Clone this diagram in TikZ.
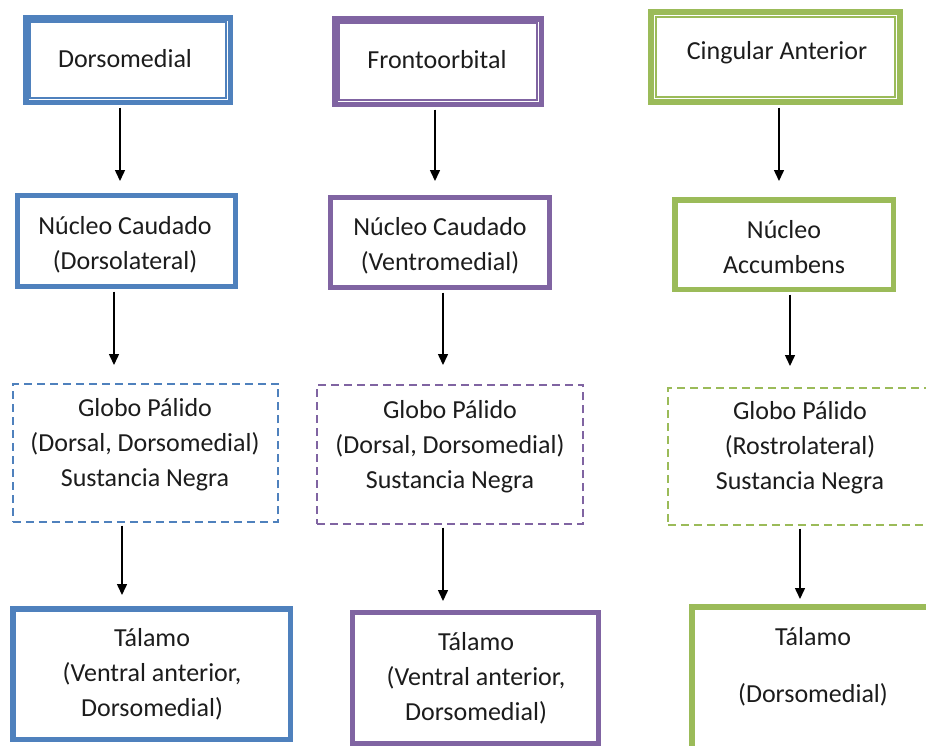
\documentclass[tikz,border=0pt]{standalone}
\usepackage{fontspec}
\setmainfont{Carlito}
\usetikzlibrary{arrows.meta}
\definecolor{cblue}{HTML}{4F81BD}
\definecolor{cpurple}{HTML}{8064A2}
\definecolor{cgreen}{HTML}{9BBB59}
\definecolor{ink}{HTML}{1C1C1C}

% Box given by its outer edges: name, x1, y1, x2, y2, line width, style
\newcommand\framedregion[7]{%
  \pgfmathsetmacro\rcx{(#2+#4)/2}%
  \pgfmathsetmacro\rcy{(#3+#5)/2}%
  \pgfmathsetmacro\rbw{#4-#2-#6}%
  \pgfmathsetmacro\rbh{#5-#3-#6}%
  \node[#7, line width=#6pt, minimum width=\rbw pt, minimum height=\rbh pt] (#1) at (\rcx,\rcy) {};
}
% Thin inner line of the double-framed top boxes
\newcommand\innerframe[3]{%
  \draw[#2, line width=2pt] ([shift={(#3,#3)}]#1.north west) rectangle ([shift={(-#3,-#3)}]#1.south east);
}

\begin{document}
\begin{tikzpicture}[x=1pt, y=-1pt,
  region/.style={draw, rectangle, inner sep=0pt},
  pathway/.style={region, dash pattern=on 8pt off 5pt},
  label/.style={align=center, text=ink, font=\fontsize{26}{35}\selectfont, inner sep=0pt},
  arr/.style={-{Triangle[width=10pt,length=11pt]}, line width=1.5pt, black, shorten <=2.5pt}]
\useasboundingbox (0,0) rectangle (926,745);
\clip (0,0) rectangle (926,745);

% ---- cortical areas (double frame) ----
\framedregion{c1}{23}{15}{233}{105}{5.5}{region, cblue}
\framedregion{c2}{332}{16}{544}{107}{5.5}{region, cpurple}
\framedregion{c3}{648}{9}{903}{105}{6}{region, cgreen}
\innerframe{c1}{cblue}{7}
\innerframe{c2}{cpurple}{7}
\innerframe{c3}{cgreen}{8}

% ---- striatum ----
\framedregion{s1}{15}{193}{238}{289}{5}{region, cblue}
\framedregion{s2}{328}{195}{552}{290}{5}{region, cpurple}
\framedregion{s3}{672}{197}{896}{292}{5.5}{region, cgreen}

% ---- pallidum / substantia nigra ----
\framedregion{g1}{12}{383}{279}{523}{1.8}{pathway, cblue}
\framedregion{g2}{316}{384}{584}{525}{1.8}{pathway, cpurple}
\framedregion{g3}{667}{387}{940}{526}{1.8}{pathway, cgreen}

% ---- thalamus ----
\framedregion{t1}{10}{606}{293}{742}{5.5}{region, cblue}
\framedregion{t2}{350}{610}{601}{746}{5}{region, cpurple}
\framedregion{t3}{689}{604}{945}{765}{5.5}{region, cgreen}

% ---- texts ----
\node[label] (lc1) at (125,59) {Dorsomedial};
\node[label] (lc2) at (437,60) {Frontoorbital};
\node[label] (lc3) at (777,53) {Cingular Anterior};

\node[label] (ls1) at (125,245) {Núcleo Caudado\\(Dorsolateral)};
\node[label] (ls2) at (440,246) {Núcleo Caudado\\(Ventromedial)};
\node[label] (ls3) at (784,247) {Núcleo\\Accumbens};

\node[label] (lg1) at (145,445) {Globo Pálido\\(Dorsal, Dorsomedial)\\Sustancia Negra};
\node[label] (lg2) at (450,447) {Globo Pálido\\(Dorsal, Dorsomedial)\\Sustancia Negra};
\node[label] (lg3) at (800,448) {Globo Pálido\\(Rostrolateral)\\Sustancia Negra};

\node[label] (lt1) at (152,674) {Tálamo\\(Ventral anterior,\\Dorsomedial)};
\node[label] (lt2) at (476,678) {Tálamo\\(Ventral anterior,\\Dorsomedial)};
\node[label] (lt3a) at (813,637) {Tálamo};
\node[label] (lt3b) at (813,695) {(Dorsomedial)};

% ---- arrow tips ----
\coordinate (a1) at (120,181);
\coordinate (a2) at (114,365);
\coordinate (a3) at (122,595);
\coordinate (b1) at (435,181);
\coordinate (b2) at (443,365);
\coordinate (b3) at (443,601);
\coordinate (d1) at (779,181);
\coordinate (d2) at (790,366);
\coordinate (d3) at (800,599);

\draw[arr] (c1.south -| a1) -- (a1);
\draw[arr] (s1.south -| a2) -- (a2);
\draw[arr] (g1.south -| a3) -- (a3);
\draw[arr] (c2.south -| b1) -- (b1);
\draw[arr] (s2.south -| b2) -- (b2);
\draw[arr] (g2.south -| b3) -- (b3);
\draw[arr] (c3.south -| d1) -- (d1);
\draw[arr] (s3.south -| d2) -- (d2);
\draw[arr] (g3.south -| d3) -- (d3);
\end{tikzpicture}
\end{document}
